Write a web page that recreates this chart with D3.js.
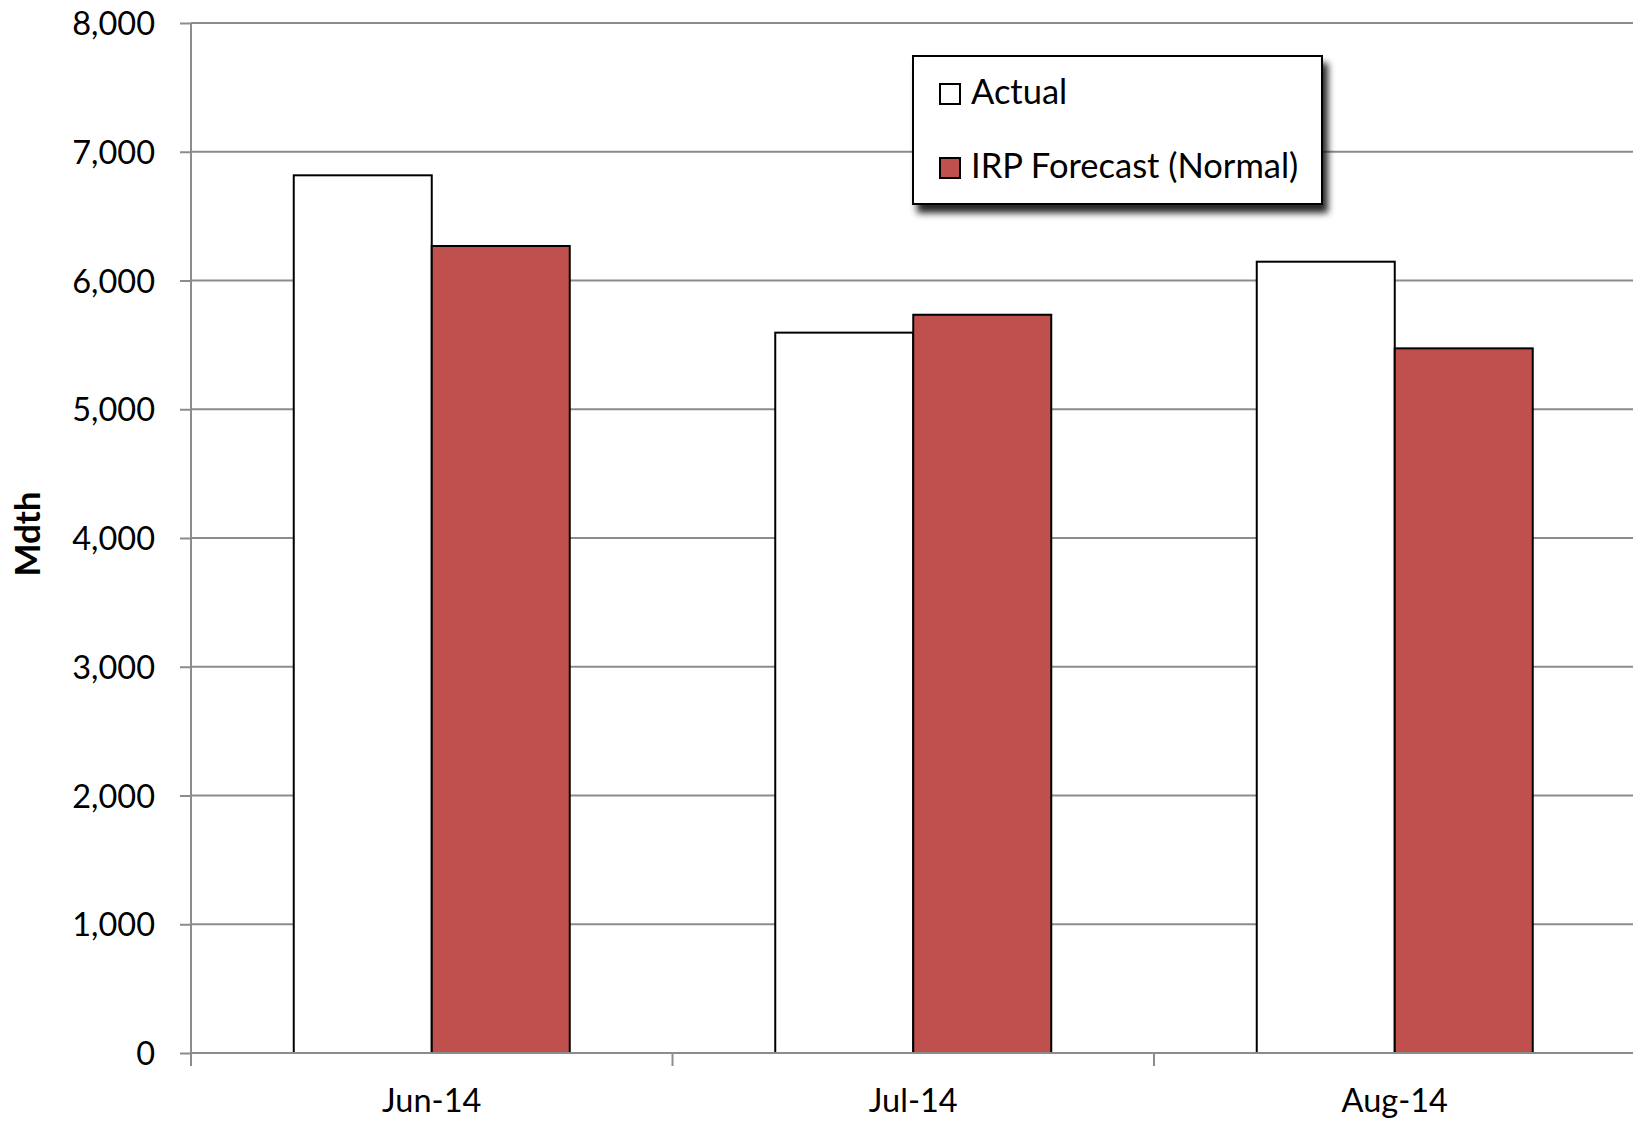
<!DOCTYPE html>
<html>
<head>
<meta charset="utf-8">
<script src="https://cdn.jsdelivr.net/npm/d3@7"></script>
<style>
  html, body { margin: 0; padding: 0; background: #fff; }
  svg { display: block; }
  text { font-family: Lato, "Open Sans", sans-serif; fill: #000; }
</style>
</head>
<body>
<svg id="chart" width="1633" height="1121"></svg>
<script>
const categories = ["Jun-14", "Jul-14", "Aug-14"];
const seriesNames = ["Actual", "IRP Forecast (Normal)"];
const actual = [6817, 5595, 6146];
const forecast = [6268, 5734, 5473];
const yTicks = [0, 1000, 2000, 3000, 4000, 5000, 6000, 7000, 8000];
const seriesColors = ["#FFFFFF", "#C0504D"];

const svg = d3.select("#chart");
const plotLeft = 191, plotTop = 23, plotBottom = 1053;
const step = 481.5;

const x0 = d3.scaleBand().domain(categories).range([plotLeft, plotLeft + step * categories.length]).padding(0);
const x1 = d3.scaleBand().domain(seriesNames).range([0, x0.bandwidth()]).paddingInner(0).paddingOuter(0.7446);
const y = d3.scaleLinear().domain([0, 8000]).range([plotBottom, plotTop]);

const gridColor = "#8c8c8c";

// gridlines
svg.append("g").selectAll("line").data(yTicks.filter(d => d > 0)).join("line")
  .attr("x1", plotLeft).attr("x2", 1633)
  .attr("y1", d => y(d)).attr("y2", d => y(d))
  .attr("stroke", gridColor).attr("stroke-width", 2);

// bars
const data = categories.map((c, i) => ({ cat: c, values: [actual[i], forecast[i]] }));
const groups = svg.append("g").selectAll("g").data(data).join("g")
  .attr("transform", d => `translate(${x0(d.cat)},0)`);
groups.selectAll("rect").data(d => d.values.map((v, j) => ({ name: seriesNames[j], v, j })))
  .join("rect")
  .attr("x", d => x1(d.name))
  .attr("width", x1.bandwidth())
  .attr("y", d => y(d.v))
  .attr("height", d => y(0) - y(d.v))
  .attr("fill", d => seriesColors[d.j])
  .attr("stroke", "#000")
  .attr("stroke-width", 2);

// y axis
const yAxis = d3.axisLeft(y).tickValues(yTicks).tickFormat(d3.format(",")).tickSize(11).tickPadding(25);
const gy = svg.append("g").attr("transform", `translate(${plotLeft},0)`).call(yAxis);
gy.attr("font-family", null).attr("font-size", null);
gy.select(".domain").attr("stroke", gridColor).attr("stroke-width", 2).attr("d", `M0,${plotTop}V${plotBottom + 13}`);
gy.selectAll(".tick line").attr("stroke", gridColor).attr("stroke-width", 2);
gy.selectAll(".tick text").style("font-size", "32.5px").attr("dy", "0.36em");

// x axis
const gx = svg.append("g").attr("transform", `translate(0,${plotBottom})`);
gx.append("line").attr("x1", plotLeft).attr("x2", 1633).attr("y1", 0).attr("y2", 0)
  .attr("stroke", gridColor).attr("stroke-width", 2);
gx.selectAll(".xt").data(categories).join("line").attr("class", "xt")
  .attr("x1", d => x0(d)).attr("x2", d => x0(d)).attr("y1", 0).attr("y2", 13)
  .attr("stroke", gridColor).attr("stroke-width", 2);
gx.selectAll(".xl").data(categories).join("text").attr("class", "xl")
  .attr("x", d => x0(d) + x0.bandwidth() / 2)
  .attr("y", 59)
  .attr("text-anchor", "middle")
  .style("font-size", "32.5px")
  .text(d => d);

// y axis title
svg.append("text")
  .attr("transform", "translate(40,534) rotate(-90)")
  .attr("text-anchor", "middle")
  .style("font-size", "35px").style("font-weight", "bold")
  .text("Mdth");

// legend
const defs = svg.append("defs");
const f = defs.append("filter").attr("id", "shadow").attr("x", "-10%").attr("y", "-10%").attr("width", "130%").attr("height", "140%");
f.append("feDropShadow").attr("dx", 5).attr("dy", 8).attr("stdDeviation", 3.5).attr("flood-color", "#000").attr("flood-opacity", 0.85);

const lg = svg.append("g").attr("transform", "translate(913,56)");
lg.append("rect").attr("width", 409).attr("height", 148).attr("fill", "#fff")
  .attr("stroke", "#000").attr("stroke-width", 2).attr("filter", "url(#shadow)");
const items = lg.selectAll(".li").data(seriesNames).join("g").attr("class", "li")
  .attr("transform", (d, i) => `translate(27,${28 + i * 74})`);
items.append("rect").attr("width", 20).attr("height", 20)
  .attr("fill", (d, i) => seriesColors[i]).attr("stroke", "#000").attr("stroke-width", 2);
items.append("text").attr("x", 31).attr("y", 20)
  .style("font-size", "34.5px").text(d => d);
</script>
</body>
</html>
